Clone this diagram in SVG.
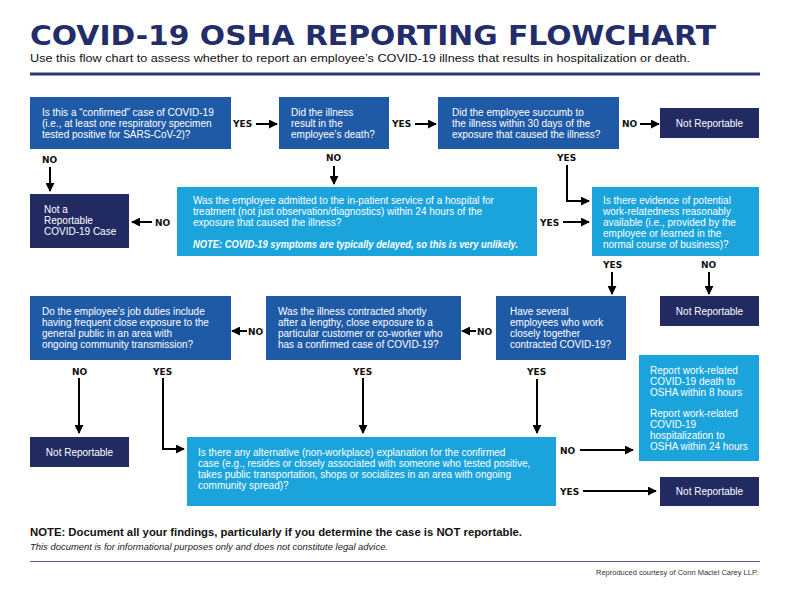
<svg xmlns="http://www.w3.org/2000/svg" width="792" height="590" viewBox="0 0 792 590">
<style>
.mb{fill:#1f5aa7}
.lb{fill:#1ba3dc}
.nv{fill:#222a62}
.t{font-family:"Liberation Sans",Arial,sans-serif;font-size:10px;fill:#ffffff}
.tn{font-family:"Liberation Sans",Arial,sans-serif;font-size:10px;fill:#ffffff;text-anchor:middle}
.lab{font-family:"DejaVu Sans",sans-serif;font-weight:bold;font-size:9px;fill:#111111}
.ar{stroke:#000;stroke-width:2;fill:none}
</style>
<defs>
<marker id="ah" viewBox="0 0 10 10" refX="9" refY="5" markerWidth="4.5" markerHeight="4.5" orient="auto" markerUnits="strokeWidth">
<path d="M0,0 L10,5 L0,10 z" fill="#000"/>
</marker>
</defs>
<rect width="792" height="590" fill="#ffffff"/>
<g id="header">
<text x="30" y="45" font-family="DejaVu Sans,sans-serif" font-weight="bold" font-size="27" fill="#232d69" textLength="686" lengthAdjust="spacingAndGlyphs">COVID-19 OSHA REPORTING FLOWCHART</text>
<text x="30" y="62" font-family="Liberation Sans,Arial,sans-serif" font-size="11.5" fill="#111" textLength="660" lengthAdjust="spacingAndGlyphs">Use this flow chart to assess whether to report an employee’s COVID-19 illness that results in hospitalization or death.</text>
<rect x="30" y="72.5" width="730" height="3" fill="#2b3676"/>
</g>
<g id="n1"><rect class="mb" x="30" y="97" width="201" height="52"/>
<text class="t" x="42" y="116">Is this a “confirmed” case of COVID-19</text>
<text class="t" x="42" y="127">(i.e., at least one respiratory specimen</text>
<text class="t" x="42" y="138">tested positive for SARS-CoV-2)?</text></g>
<g id="n2"><rect class="mb" x="279" y="97" width="110" height="52"/>
<text class="t" x="291" y="116">Did the illness</text>
<text class="t" x="291" y="127">result in the</text>
<text class="t" x="291" y="138">employee’s death?</text></g>
<g id="n3"><rect class="mb" x="438" y="97" width="181" height="52"/>
<text class="t" x="452" y="116">Did the employee succumb to</text>
<text class="t" x="452" y="127">the illness within 30 days of the</text>
<text class="t" x="452" y="138">exposure that caused the illness?</text></g>
<g id="n4"><rect class="nv" x="660" y="108" width="99" height="30"/>
<text class="tn" x="709.5" y="127">Not Reportable</text></g>
<g id="n5"><rect class="nv" x="30" y="194" width="99" height="54"/>
<text class="t" x="44" y="213">Not a</text>
<text class="t" x="44" y="224">Reportable</text>
<text class="t" x="44" y="235">COVID-19 Case</text></g>
<g id="n6"><rect class="lb" x="177" y="187" width="360" height="69"/>
<text class="t" x="193" y="204">Was the employee admitted to the in-patient service of a hospital for</text>
<text class="t" x="193" y="215">treatment (not just observation/diagnostics) within 24 hours of the</text>
<text class="t" x="193" y="226">exposure that caused the illness?</text>
<text class="t" x="193" y="248" font-weight="bold" font-style="italic" font-size="9" textLength="325" lengthAdjust="spacingAndGlyphs">NOTE: COVID-19 symptoms are typically delayed, so this is very unlikely.</text></g>
<g id="n7"><rect class="lb" x="592" y="187" width="167" height="69"/>
<text class="t" x="603" y="204">Is there evidence of potential</text>
<text class="t" x="603" y="215">work-relatedness reasonably</text>
<text class="t" x="603" y="226">available (i.e., provided by the</text>
<text class="t" x="603" y="237">employee or learned in the</text>
<text class="t" x="603" y="248">normal course of business)?</text></g>
<g id="n8"><rect class="nv" x="660" y="296" width="99" height="30"/>
<text class="tn" x="709.5" y="315">Not Reportable</text></g>
<g id="n9"><rect class="mb" x="496" y="296" width="130" height="64"/>
<text class="t" x="510" y="315">Have several</text>
<text class="t" x="510" y="326">employees who work</text>
<text class="t" x="510" y="337">closely together</text>
<text class="t" x="510" y="348">contracted COVID-19?</text></g>
<g id="n10"><rect class="mb" x="266" y="296" width="195" height="64"/>
<text class="t" x="278" y="315">Was the illness contracted shortly</text>
<text class="t" x="278" y="326">after a lengthy, close exposure to a</text>
<text class="t" x="278" y="337">particular customer or co-worker who</text>
<text class="t" x="278" y="348">has a confirmed case of COVID-19?</text></g>
<g id="n11"><rect class="mb" x="30" y="296" width="201" height="64"/>
<text class="t" x="42" y="315">Do the employee’s job duties include</text>
<text class="t" x="42" y="326">having frequent close exposure to the</text>
<text class="t" x="42" y="337">general public in an area with</text>
<text class="t" x="42" y="348">ongoing community transmission?</text></g>
<g id="n12"><rect class="lb" x="639" y="355" width="120" height="106"/>
<text class="t" x="650" y="374">Report work-related</text>
<text class="t" x="650" y="385">COVID-19 death to</text>
<text class="t" x="650" y="396">OSHA within 8 hours</text>
<text class="t" x="650" y="417">Report work-related</text>
<text class="t" x="650" y="428">COVID-19</text>
<text class="t" x="650" y="439">hospitalization to</text>
<text class="t" x="650" y="450">OSHA within 24 hours</text></g>
<g id="n13"><rect class="nv" x="30" y="437" width="99" height="30"/>
<text class="tn" x="79.5" y="456">Not Reportable</text></g>
<g id="n14"><rect class="lb" x="187" y="437" width="369" height="69"/>
<text class="t" x="198" y="456">Is there any alternative (non-workplace) explanation for the confirmed</text>
<text class="t" x="198" y="467">case (e.g., resides or closely associated with someone who tested positive,</text>
<text class="t" x="198" y="478">takes public transportation, shops or socializes in an area with ongoing</text>
<text class="t" x="198" y="489">community spread)?</text></g>
<g id="n15"><rect class="nv" x="660" y="477" width="99" height="29"/>
<text class="tn" x="709.5" y="495">Not Reportable</text></g>
<g id="connectors">
<path class="ar" marker-end="url(#ah)" d="M256,124 H277"/>
<path class="ar" marker-end="url(#ah)" d="M415,124 H436"/>
<path class="ar" marker-end="url(#ah)" d="M640,124 H659"/>
<path class="ar" marker-end="url(#ah)" d="M50,167 V191"/>
<path class="ar" marker-end="url(#ah)" d="M334,166 V184"/>
<path class="ar" marker-end="url(#ah)" d="M152,222 H132"/>
<path class="ar" marker-end="url(#ah)" d="M567,165 V201 H589"/>
<path class="ar" marker-end="url(#ah)" d="M563,222 H589"/>
<path class="ar" marker-end="url(#ah)" d="M612,272 V294"/>
<path class="ar" marker-end="url(#ah)" d="M709,272 V294"/>
<path class="ar" marker-end="url(#ah)" d="M476,331 H462"/>
<path class="ar" marker-end="url(#ah)" d="M247,331 H232"/>
<path class="ar" marker-end="url(#ah)" d="M79,378 V433"/>
<path class="ar" marker-end="url(#ah)" d="M163,378 V449 H184"/>
<path class="ar" marker-end="url(#ah)" d="M363,378 V433"/>
<path class="ar" marker-end="url(#ah)" d="M537,379 V433"/>
<path class="ar" marker-end="url(#ah)" d="M580,450 H633"/>
<path class="ar" marker-end="url(#ah)" d="M583,491 H656"/>
<text class="lab" x="233" y="127">YES</text>
<text class="lab" x="392" y="127">YES</text>
<text class="lab" x="622" y="127">NO</text>
<text class="lab" x="42" y="163">NO</text>
<text class="lab" x="326" y="161">NO</text>
<text class="lab" x="155" y="226">NO</text>
<text class="lab" x="557" y="161">YES</text>
<text class="lab" x="540" y="226">YES</text>
<text class="lab" x="603" y="268">YES</text>
<text class="lab" x="701" y="268">NO</text>
<text class="lab" x="477" y="335">NO</text>
<text class="lab" x="248" y="335">NO</text>
<text class="lab" x="72" y="375">NO</text>
<text class="lab" x="153" y="375">YES</text>
<text class="lab" x="353" y="375">YES</text>
<text class="lab" x="527" y="375">YES</text>
<text class="lab" x="560" y="454">NO</text>
<text class="lab" x="560" y="495">YES</text>
</g>
<g id="footer">
<text x="30" y="536" font-family="Liberation Sans,Arial,sans-serif" font-weight="bold" font-size="11" fill="#111" textLength="492" lengthAdjust="spacingAndGlyphs">NOTE: Document all your findings, particularly if you determine the case is NOT reportable.</text>
<text x="30" y="550" font-family="Liberation Sans,Arial,sans-serif" font-style="italic" font-size="8.5" fill="#222" textLength="358" lengthAdjust="spacingAndGlyphs">This document is for informational purposes only and does not constitute legal advice.</text>
<rect x="30" y="561" width="730" height="1" fill="#5a5e8e"/>
<text x="758" y="575" text-anchor="end" font-family="Liberation Sans,Arial,sans-serif" font-size="7.2" fill="#333" textLength="162" lengthAdjust="spacingAndGlyphs">Reproduced courtesy of Conn Maciel Carey LLP.</text>
</g>
</svg>
